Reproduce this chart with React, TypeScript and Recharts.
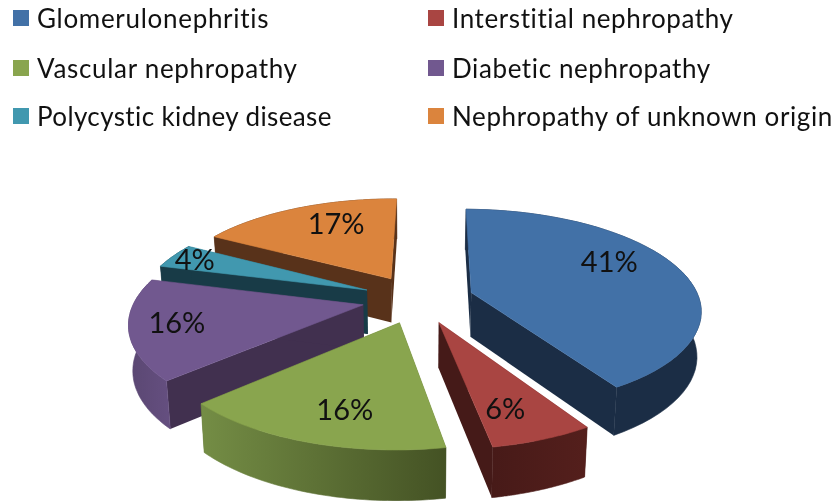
import { PieChart, Pie } from 'recharts';

const categories = [
  'Glomerulonephritis',
  'Interstitial nephropathy',
  'Vascular nephropathy',
  'Diabetic nephropathy',
  'Polycystic kidney disease',
  'Nephropathy of unknown origin',
];
const shares = [41, 6, 16, 16, 4, 17];

const topColors = ['#4271a7', '#a94542', '#89a54e', '#71588f', '#4198af', '#db843d'];
const cutColors = ['#1b2d45', '#451a18', '#445224', '#41304f', '#183b47', '#58321a'];
const sideStart = ['#1b2d45', '#541f1c', '#748d45', '#654f80', '#183b47', '#58321a'];
const sideEnd = ['#1b2d45', '#471a18', '#445224', '#5a4772', '#183b47', '#58321a'];

// back to front, Pie draws its sectors in data order so each slice gets its own Pie
const drawOrder = [5, 0, 4, 3, 1, 2];

const rows = categories.map((name, i) => ({ name, share: shares[i] }));

const WIDTH = 833;
const HEIGHT = 501;
const SQUASH = 0.432;
const PERSPECTIVE = 0.159;
const EXPLODE = 0.245;
const DEPTH = 44.5;
const RAD = Math.PI / 180;

// fake 3D: plane coords (unit circle, +y towards viewer) onto the screen
const project = (cx: number, cy: number, r: number, px: number, py: number) => {
  const s = 1 / (1 - PERSPECTIVE * py);
  return { x: cx + r * px * s, y: cy + r * SQUASH * py * s, s };
};

const lower = (cx: number, p: { x: number; y: number; s: number }) => ({
  x: cx + (p.x - cx) * 0.985,
  y: p.y + DEPTH * Math.pow(p.s, 0.6),
  s: p.s,
});

const toPath = (pts: { x: number; y: number }[]) =>
  pts.map((p, i) => `${i ? 'L' : 'M'}${p.x.toFixed(1)} ${p.y.toFixed(1)}`).join(' ') + ' Z';

const Slice = (props: any) => {
  const { cx, cy, outerRadius, startAngle, endAngle, name } = props;
  const i = categories.indexOf(name);
  const mid = ((startAngle + endAngle) / 2) * RAD;
  const ox = EXPLODE * Math.cos(mid);
  const oy = -EXPLODE * Math.sin(mid);
  const apex = project(cx, cy, outerRadius, ox, oy);
  const arc = [];
  for (let k = 0; k <= 48; k++) {
    const a = (startAngle + ((endAngle - startAngle) * k) / 48) * RAD;
    arc.push(project(cx, cy, outerRadius, ox + Math.cos(a), oy - Math.sin(a)));
  }
  const first = arc[0];
  const last = arc[arc.length - 1];
  const outer = [...arc, ...arc.map((p) => lower(cx, p)).reverse()];
  const gradId = `side-${i}`;
  return (
    <g>
      <defs>
        <linearGradient id={gradId} x1="0" y1="0" x2="1" y2="0">
          <stop offset="0%" stopColor={i === 2 ? sideStart[i] : sideEnd[i]} />
          <stop offset="100%" stopColor={i === 2 ? sideEnd[i] : sideStart[i]} />
        </linearGradient>
      </defs>
      <path d={toPath([apex, first, lower(cx, first), lower(cx, apex)])} fill={cutColors[i]} />
      <path d={toPath([apex, last, lower(cx, last), lower(cx, apex)])} fill={cutColors[i]} />
      <path d={toPath(outer)} fill={`url(#${gradId})`} stroke={`url(#${gradId})`} strokeWidth={0.6} />
      <path d={toPath([apex, ...arc])} fill={topColors[i]} stroke={topColors[i]} strokeWidth={0.6} />
    </g>
  );
};

const onlySlice = (idx: number) => (props: any) =>
  props.name === categories[idx] ? <Slice {...props} /> : <g />;

// the labels in the original do not sit on the mid line of the slices
const labelNudge = [
  [2, -16],
  [3, 14],
  [2, 13],
  [-36, 1],
  [-44, -9],
  [9, -9],
];

const renderLabel = (props: any) => {
  const { cx, cy, outerRadius, midAngle, name, value } = props;
  const i = categories.indexOf(name);
  const a = midAngle * RAD;
  const p = project(cx, cy, outerRadius, (EXPLODE + 0.65) * Math.cos(a), -(EXPLODE + 0.65) * Math.sin(a));
  return (
    <text
      x={p.x + labelNudge[i][0]}
      y={p.y + labelNudge[i][1]}
      textAnchor="middle"
      dominantBaseline="central"
      fontFamily="Lato"
      fontSize={29}
      fill="#111"
    >
      {value}%
    </text>
  );
};

const legendLeft = [13, 428];
const legendTop = [18, 68, 116];
const legendTracking = [0.7, 0.6, 0.7, 0.6, 0.38, 0.6];

export default function App() {
  return (
    <div
      style={{
        position: 'fixed',
        left: 0,
        top: 0,
        width: WIDTH,
        height: HEIGHT,
        background: '#fff',
        overflow: 'hidden',
        filter: 'blur(0.5px)',
      }}
    >
      <PieChart width={WIDTH} height={HEIGHT} margin={{ top: 0, right: 0, bottom: 0, left: 0 }}>
        {drawOrder.map((idx) => (
          <Pie
            key={idx}
            data={rows}
            dataKey="share"
            nameKey="name"
            cx={418}
            cy={299}
            outerRadius={228}
            startAngle={89.4}
            endAngle={-270.6}
            stroke="none"
            shape={onlySlice(idx)}
            isAnimationActive={false}
          />
        ))}
        <Pie
          data={rows}
          dataKey="share"
          nameKey="name"
          cx={418}
          cy={299}
          outerRadius={228}
          startAngle={89.4}
          endAngle={-270.6}
          stroke="none"
          shape={() => <g />}
          label={renderLabel}
          labelLine={false}
          isAnimationActive={false}
        />
      </PieChart>
      {categories.map((name, i) => (
        <div
          key={name}
          style={{
            position: 'absolute',
            left: legendLeft[i % 2],
            top: legendTop[Math.floor(i / 2)] - 20,
            height: 40,
            display: 'flex',
            alignItems: 'center',
            fontFamily: 'Lato',
            fontSize: 26,
            letterSpacing: legendTracking[i],
            color: '#111',
            whiteSpace: 'nowrap',
          }}
        >
          <span style={{ width: 16, height: 16, background: topColors[i], marginRight: 8 }} />
          {name}
        </div>
      ))}
    </div>
  );
}
